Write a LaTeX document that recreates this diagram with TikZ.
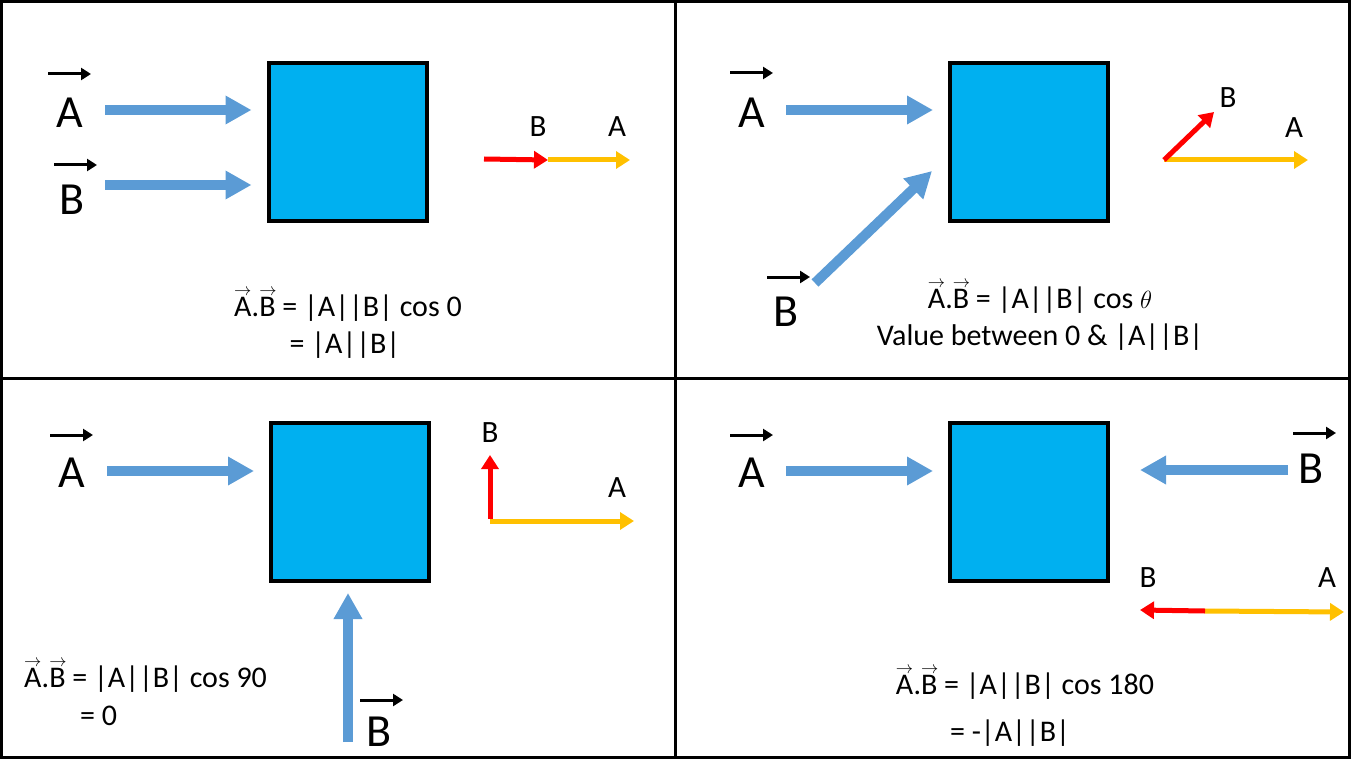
\documentclass[tikz,border=0pt]{standalone}
\usepackage{fontspec}
\setmainfont{Carlito}
\usetikzlibrary{arrows.meta,calc}
\definecolor{boxblue}{HTML}{00B0F0}
\definecolor{arrblue}{HTML}{5B9BD5}
\definecolor{vred}{HTML}{FF0000}
\definecolor{vyel}{HTML}{FFC000}
\newcommand{\myvec}[1]{\leavevmode\rlap{\raisebox{0.70em}{\fontsize{19}{19}\selectfont$\rightarrow$}}#1}
\tikzset{
  blockbox/.style={draw=black,line width=4pt,fill=boxblue,minimum width=158pt,minimum height=158pt,inner sep=0pt},
  bigarrow/.style={draw=arrblue,line width=10pt,-{Triangle[length=26pt,width=27pt]}},
  redarrow/.style={draw=vred,line width=5pt,-{Triangle[length=14pt,width=17pt]}},
  yelarrow/.style={draw=vyel,line width=5pt,-{Triangle[length=14pt,width=17pt]}},
  ovarrow/.style={draw=black,line width=3pt,-{Triangle[length=10pt,width=12pt]}},
  biglbl/.style={font=\fontsize{46}{50}\selectfont,inner sep=0pt},
  smalllbl/.style={font=\fontsize{31}{36}\selectfont,inner sep=0pt},
  formula/.style={font=\fontsize{30}{36}\selectfont,inner sep=0pt},
  frameline/.style={draw=black,line width=3pt}
}
\begin{document}
\begin{tikzpicture}[x=1pt,y=-1pt]
\useasboundingbox (0,0) rectangle (1351,759);
% frame
\draw[frameline] (1.5,1.5) rectangle (1349.5,757.5);
\draw[frameline] (675,0) -- (675,759);
\draw[frameline] (0,378) -- (1351,378);

% ===== Panel 1 =====
\node[blockbox] (box1) at (347.5,142) {};
\node[biglbl] (lA1) at (70,113) {A};
\draw[ovarrow] ([shift={(-22,-39)}]lA1.center) -- ++(43,0);
\node[biglbl] (lB1) at (72,200) {B};
\draw[ovarrow] ([shift={(-18,-35)}]lB1.center) -- ++(43,0);
\coordinate (sA1) at (105,110);
\coordinate (sB1) at (105,185);
\draw[bigarrow,shorten >=15pt] (sA1) -- (box1.west |- sA1);
\draw[bigarrow,shorten >=15pt] (sB1) -- (box1.west |- sB1);
\coordinate (o1) at (548,160);
\coordinate (r1) at (484,159);
\coordinate (y1) at (630,160);
\draw[yelarrow] (o1) -- (y1);
\draw[redarrow] (r1) -- (o1);
\node[smalllbl] (vB1) at (538,127) {B};
\node[smalllbl] (vA1) at (617,127) {A};
\node[formula] (f1a) at (348,305) {\myvec{A}.\myvec{B} = |A||B| cos 0};
\node[formula] (f1b) at (345,345) {= |A||B|};

% ===== Panel 2 =====
\node[blockbox] (box2) at (1029,142) {};
\node[biglbl] (lA2) at (752,113) {A};
\draw[ovarrow] ([shift={(-22,-40)}]lA2.center) -- ++(43,0);
\node[biglbl] (lB2) at (786,312) {B};
\draw[ovarrow] ([shift={(-19,-35)}]lB2.center) -- ++(43,0);
\coordinate (sA2) at (786,110);
\draw[bigarrow,shorten >=15pt] (sA2) -- (box2.west |- sA2);
\coordinate (sB2) at (815,283);
\coordinate (eB2) at (932,171);
\draw[bigarrow] (sB2) -- (eB2);
\coordinate (o2) at (1164,160);
\coordinate (r2) at (1214,112);
\coordinate (y2) at (1308,160);
\draw[yelarrow] (o2) -- (y2);
\draw[redarrow] (o2) -- (r2);
\node[smalllbl] (vB2) at (1228,98) {B};
\node[smalllbl] (vA2) at (1294,128) {A};
\node[formula] (f2a) at (1040,297) {\myvec{A}.\myvec{B} = |A||B| cos $\theta$};
\node[formula] (f2b) at (1040,337) {Value between 0 \& |A||B|};

% ===== Panel 3 =====
\node[blockbox] (box3) at (350,502) {};
\node[biglbl] (lA3) at (72,473) {A};
\draw[ovarrow] ([shift={(-22,-38)}]lA3.center) -- ++(43,0);
\coordinate (sA3) at (107,471);
\draw[bigarrow,shorten >=15pt] (sA3) -- (box3.west |- sA3);
\coordinate (sB3) at (348,742);
\draw[bigarrow,shorten >=10pt] (sB3) -- (sB3 |- box3.south);
\node[biglbl] (lB3) at (379,732) {B};
\draw[ovarrow] ([shift={(-19,-32)}]lB3.center) -- ++(43,0);
\coordinate (o3) at (490,521);
\coordinate (r3) at (490,455);
\coordinate (y3) at (634,521);
\draw[yelarrow] (o3) -- (y3);
\draw[redarrow] ([yshift=2.5]o3) -- (r3);
\node[smalllbl] (vB3) at (490,433) {B};
\node[smalllbl] (vA3) at (617,488) {A};
\node[formula,anchor=west] (f3a) at (24,676) {\myvec{A}.\myvec{B} = |A||B| cos 90};
\node[formula,anchor=west] (f3b) at (80,716) {= 0};

% ===== Panel 4 =====
\node[blockbox] (box4) at (1029,502) {};
\node[biglbl] (lA4) at (752,473) {A};
\draw[ovarrow] ([shift={(-22,-38)}]lA4.center) -- ++(43,0);
\coordinate (sA4) at (786,471);
\draw[bigarrow,shorten >=15pt] (sA4) -- (box4.west |- sA4);
\node[biglbl] (lB4) at (1311,469) {B};
\draw[ovarrow] ([shift={(-18,-36)}]lB4.center) -- ++(43,0);
\coordinate (sB4) at (1288,470);
\draw[bigarrow,shorten >=30pt] (sB4) -- (box4.east |- sB4);
\coordinate (o4) at (1205,611);
\coordinate (r4) at (1140,610);
\coordinate (y4) at (1344,612);
\draw[yelarrow] (o4) -- (y4);
\draw[redarrow] (o4) -- (r4);
\node[smalllbl] (vB4) at (1148,578) {B};
\node[smalllbl] (vA4) at (1327,578) {A};
\node[formula] (f4a) at (1025,683) {\myvec{A}.\myvec{B} = |A||B| cos 180};
\node[formula] (f4b) at (1010,733) {= -|A||B|};
\end{tikzpicture}
\end{document}
